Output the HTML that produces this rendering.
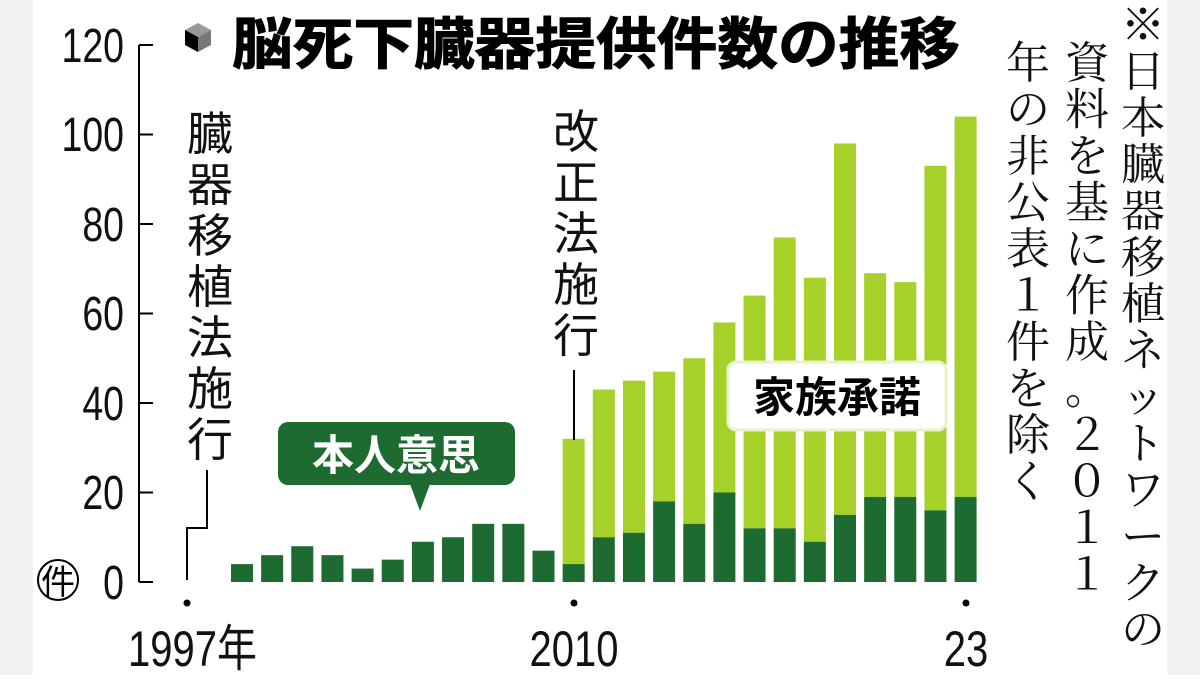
<!DOCTYPE html>
<html><head><meta charset="utf-8"><style>
body{margin:0;width:1200px;height:675px;overflow:hidden;background:#fff;font-family:"Liberation Sans","Noto Sans CJK JP",sans-serif}
</style></head><body>
<svg width="1200" height="675" xmlns="http://www.w3.org/2000/svg" font-family="'Liberation Sans','Noto Sans CJK JP',sans-serif">
<rect x="0" y="0" width="33" height="675" fill="#f1f1f1"/>
<rect x="1167" y="0" width="33" height="675" fill="#f1f1f1"/>
<line x1="139" y1="45" x2="139" y2="582" stroke="#000" stroke-width="2"/>
<g stroke="#000" stroke-width="2">
<line x1="139" y1="45" x2="153" y2="45"/><line x1="139" y1="134.5" x2="153" y2="134.5"/>
<line x1="139" y1="224" x2="153" y2="224"/><line x1="139" y1="313.5" x2="153" y2="313.5"/>
<line x1="139" y1="403" x2="153" y2="403"/><line x1="139" y1="492.5" x2="153" y2="492.5"/>
<line x1="139" y1="582" x2="153" y2="582"/></g>
<g font-size="48" text-anchor="end" fill="#111" transform="translate(124,0) scale(0.78,1)">
<text x="0" y="62">120</text><text x="0" y="151">100</text><text x="0" y="241">80</text>
<text x="0" y="330">60</text><text x="0" y="420">40</text><text x="0" y="509">20</text><text x="0" y="599">0</text></g>
<circle cx="58" cy="580" r="20" fill="none" stroke="#000" stroke-width="2"/>
<text x="58" y="594" font-size="34" text-anchor="middle">件</text>
<g transform="translate(185,42)">
<polygon points="0,-12 13,-19 26,-12 13,-5" fill="#999"/>
<polygon points="0,-12 13,-5 13,10 0,3" fill="#000"/>
<polygon points="26,-12 13,-5 13,10 26,3" fill="#777"/>
</g>
<text x="232" y="64" font-size="56" font-weight="bold" fill="#000" stroke="#000" stroke-width="1" textLength="728" lengthAdjust="spacingAndGlyphs">脳死下臓器提供件数の推移</text>
<g id="bars"></g>
<circle cx="187" cy="603" r="3.5" fill="#000"/><circle cx="574" cy="603" r="3.5" fill="#000"/><circle cx="966" cy="603" r="3.5" fill="#000"/>
<g font-size="50" fill="#111">
<g transform="translate(128,0) scale(0.8,1)"><text x="0" y="666">1997年</text></g>
<g transform="translate(574,0) scale(0.8,1)"><text x="0" y="666" text-anchor="middle">2010</text></g>
<g transform="translate(966,0) scale(0.8,1)"><text x="0" y="666" text-anchor="middle">23</text></g></g>
<g font-size="46" text-anchor="middle" fill="#111">
<text x="210" y="150">臓</text><text x="210" y="201">器</text><text x="210" y="252">移</text><text x="210" y="303">植</text><text x="210" y="354">法</text><text x="210" y="405">施</text><text x="210" y="456">行</text>
<text x="576" y="148">改</text><text x="576" y="199">正</text><text x="576" y="250">法</text><text x="576" y="301">施</text><text x="576" y="352">行</text>
</g>
<polyline points="207,470 207,528 187,528 187,580" fill="none" stroke="#000" stroke-width="2"/>
<line x1="574" y1="370" x2="574" y2="440" stroke="#000" stroke-width="2"/>
<rect x="278" y="422" width="237" height="63" rx="10" fill="#1d6b30"/>
<polygon points="410,484 430,484 420,511" fill="#1d6b30"/>
<text x="396" y="470" font-size="42" font-weight="bold" fill="#fff" text-anchor="middle">本人意思</text>
<rect x="728" y="362" width="218" height="68" rx="8" fill="#fff" stroke="#e8f3c8" stroke-width="3"/>
<text x="837" y="412" font-size="42" font-weight="bold" fill="#000" text-anchor="middle">家族承諾</text>
<g font-size="44" text-anchor="middle" fill="#111" font-family="'Noto Serif CJK JP','Noto Serif CJK SC',serif" id="note"></g>
</svg>
<script>
var d=[[4,4],[6,6],[8,8],[6,6],[3,3],[5,5],[9,9],[10,10],[13,13],[13,13],[7,7],[4,32],[10,43],[11,45],[18,47],[13,50],[20,58],[12,64],[12,77],[9,68],[15,98],[19,69],[19,67],[16,93],[19,104]];
var g=document.getElementById('bars'),h='';
d.forEach(function(v,i){var cx=242+i*30.15,x=cx-11,w=22;
var yt=582-4.475*v[1],yd=582-4.475*v[0];
if(v[1]>v[0])h+='<rect x="'+x+'" y="'+yt+'" width="'+w+'" height="'+(yd-yt)+'" fill="#a5d12a"/>';
h+='<rect x="'+x+'" y="'+yd+'" width="'+w+'" height="'+(582-yd)+'" fill="#1d6b30"/>';});
g.innerHTML=h;
var cols=[[1143,40,"※日本臓器移植ネットワークの"],[1087,78,"資料を基に作成。２０１１"],[1028,78,"年の非公表１件を除く"]];
var t='';cols.forEach(function(c){for(var k=0;k<c[2].length;k++){t+='<text x="'+c[0]+'" y="'+(c[1]+k*46.5)+'">'+c[2][k]+'</text>';}});
document.getElementById('note').innerHTML=t;
</script>
</body></html>
